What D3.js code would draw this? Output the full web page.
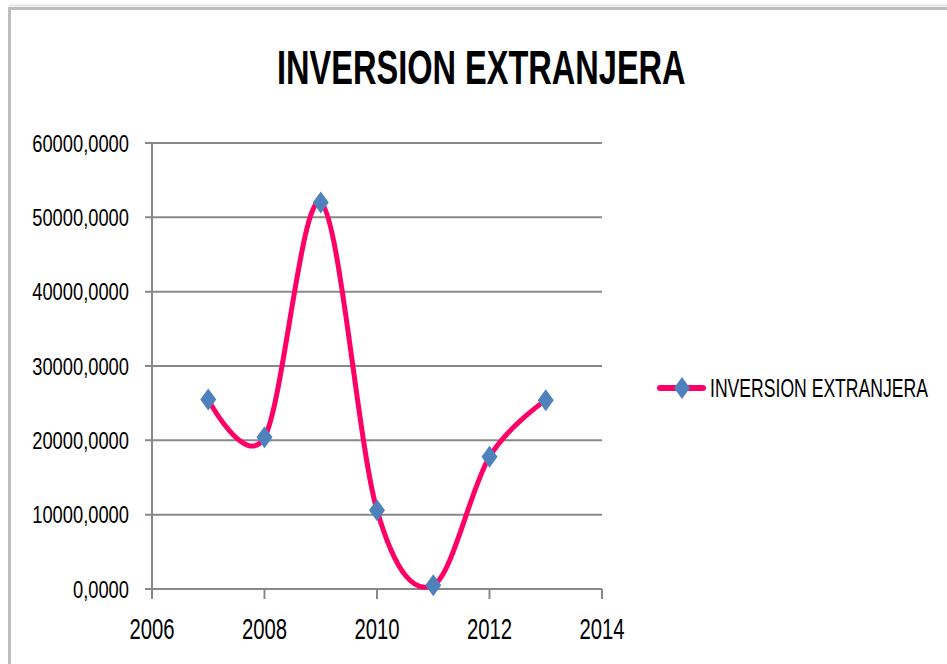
<!DOCTYPE html>
<meta charset="utf-8">
<style>
body { margin: 0; background: #fff; }
text { font-family: "Liberation Sans", Arial, sans-serif; fill: #000; }
.grid line { stroke: #888; stroke-width: 2; }
</style>
<svg width="947" height="664"></svg>
<script src="https://d3js.org/d3.v7.min.js"></script>
<script>

var years = [2007, 2008, 2009, 2010, 2011, 2012, 2013];
var inversion = [25500, 20400, 52000, 10600, 500, 17800, 25400];
var yTicks = [0, 10000, 20000, 30000, 40000, 50000, 60000];
var xTicks = [2006, 2008, 2010, 2012, 2014];
var seriesName = "INVERSION EXTRANJERA";

var svg = d3.select("svg");

var x = d3.scaleLinear().domain([2006, 2014]).range([152, 602]);
var y = d3.scaleLinear().domain([0, 60000]).range([589, 143]);

var pink = "#ff0066",
    blue = "#4f81bd";

// outer frame
svg.append("line").attr("x1", 9).attr("x2", 947).attr("y1", 5.5).attr("y2", 5.5)
  .attr("stroke", "#e4e4e4").attr("stroke-width", 2);
svg.append("rect").attr("x", 9.5).attr("y", 8.5).attr("width", 1000).attr("height", 700)
  .attr("fill", "none").attr("stroke", "#bdbdbd").attr("stroke-width", 3);

// title (condensed by a horizontal scale)
svg.append("text")
  .attr("transform", "translate(277,84) scale(0.678,1)")
  .attr("font-size", 48).attr("font-weight", "bold")
  .text(seriesName);

// horizontal gridlines + y ticks
var grid = svg.append("g").attr("class", "grid");
grid.selectAll("line")
  .data(yTicks)
  .enter().append("line")
  .attr("x1", 145).attr("x2", 602)
  .attr("y1", function(d) { return y(d); })
  .attr("y2", function(d) { return y(d); });

// y axis line
grid.append("line").attr("x1", x(2006)).attr("x2", x(2006)).attr("y1", y(60000)).attr("y2", y(0));

// x ticks
grid.selectAll(".xt")
  .data(xTicks)
  .enter().append("line")
  .attr("class", "xt")
  .attr("x1", function(d) { return x(d); })
  .attr("x2", function(d) { return x(d); })
  .attr("y1", y(0)).attr("y2", y(0) + 10);

var fmt = function(d) { return d3.format(".4f")(d).replace(".", ","); };

// y labels, squeezed horizontally
var sy = 0.78;
svg.selectAll(".ylab")
  .data(yTicks)
  .enter().append("text")
  .attr("class", "ylab")
  .attr("text-anchor", "end")
  .attr("font-size", 23.5)
  .attr("transform", function(d) { return "translate(129," + (y(d) + 8.5) + ") scale(" + sy + ",1)"; })
  .text(fmt);

// x labels
var sx = 0.70;
svg.selectAll(".xlab")
  .data(xTicks)
  .enter().append("text")
  .attr("class", "xlab")
  .attr("text-anchor", "middle")
  .attr("font-size", 29)
  .attr("transform", function(d) { return "translate(" + x(d) + ",639) scale(" + sx + ",1)"; })
  .text(function(d) { return d; });

// smoothed line
var line = d3.line()
  .x(function(d, i) { return x(years[i]); })
  .y(function(d) { return y(d); })
  .curve(d3.curveCatmullRom.alpha(0));

svg.append("path")
  .datum(inversion)
  .attr("d", line)
  .attr("fill", "none")
  .attr("stroke", pink)
  .attr("stroke-width", 5)
  .attr("stroke-linecap", "round");

function diamond(cx, cy) {
  return "M" + cx + "," + (cy - 11) + " L" + (cx + 8) + "," + cy +
         " L" + cx + "," + (cy + 11) + " L" + (cx - 8) + "," + cy + " Z";
}

svg.selectAll(".pt")
  .data(inversion)
  .enter().append("path")
  .attr("class", "pt")
  .attr("d", function(d, i) { return diamond(x(years[i]), y(d)); })
  .attr("fill", blue);

// legend
var leg = svg.append("g");
leg.append("line").attr("x1", 660).attr("x2", 703).attr("y1", 388).attr("y2", 388)
  .attr("stroke", pink).attr("stroke-width", 6).attr("stroke-linecap", "round");
leg.append("path").attr("d", diamond(682, 388)).attr("fill", blue);
leg.append("text")
  .attr("transform", "translate(710,397) scale(0.677,1)")
  .attr("font-size", 26)
  .text(seriesName);

</script>
